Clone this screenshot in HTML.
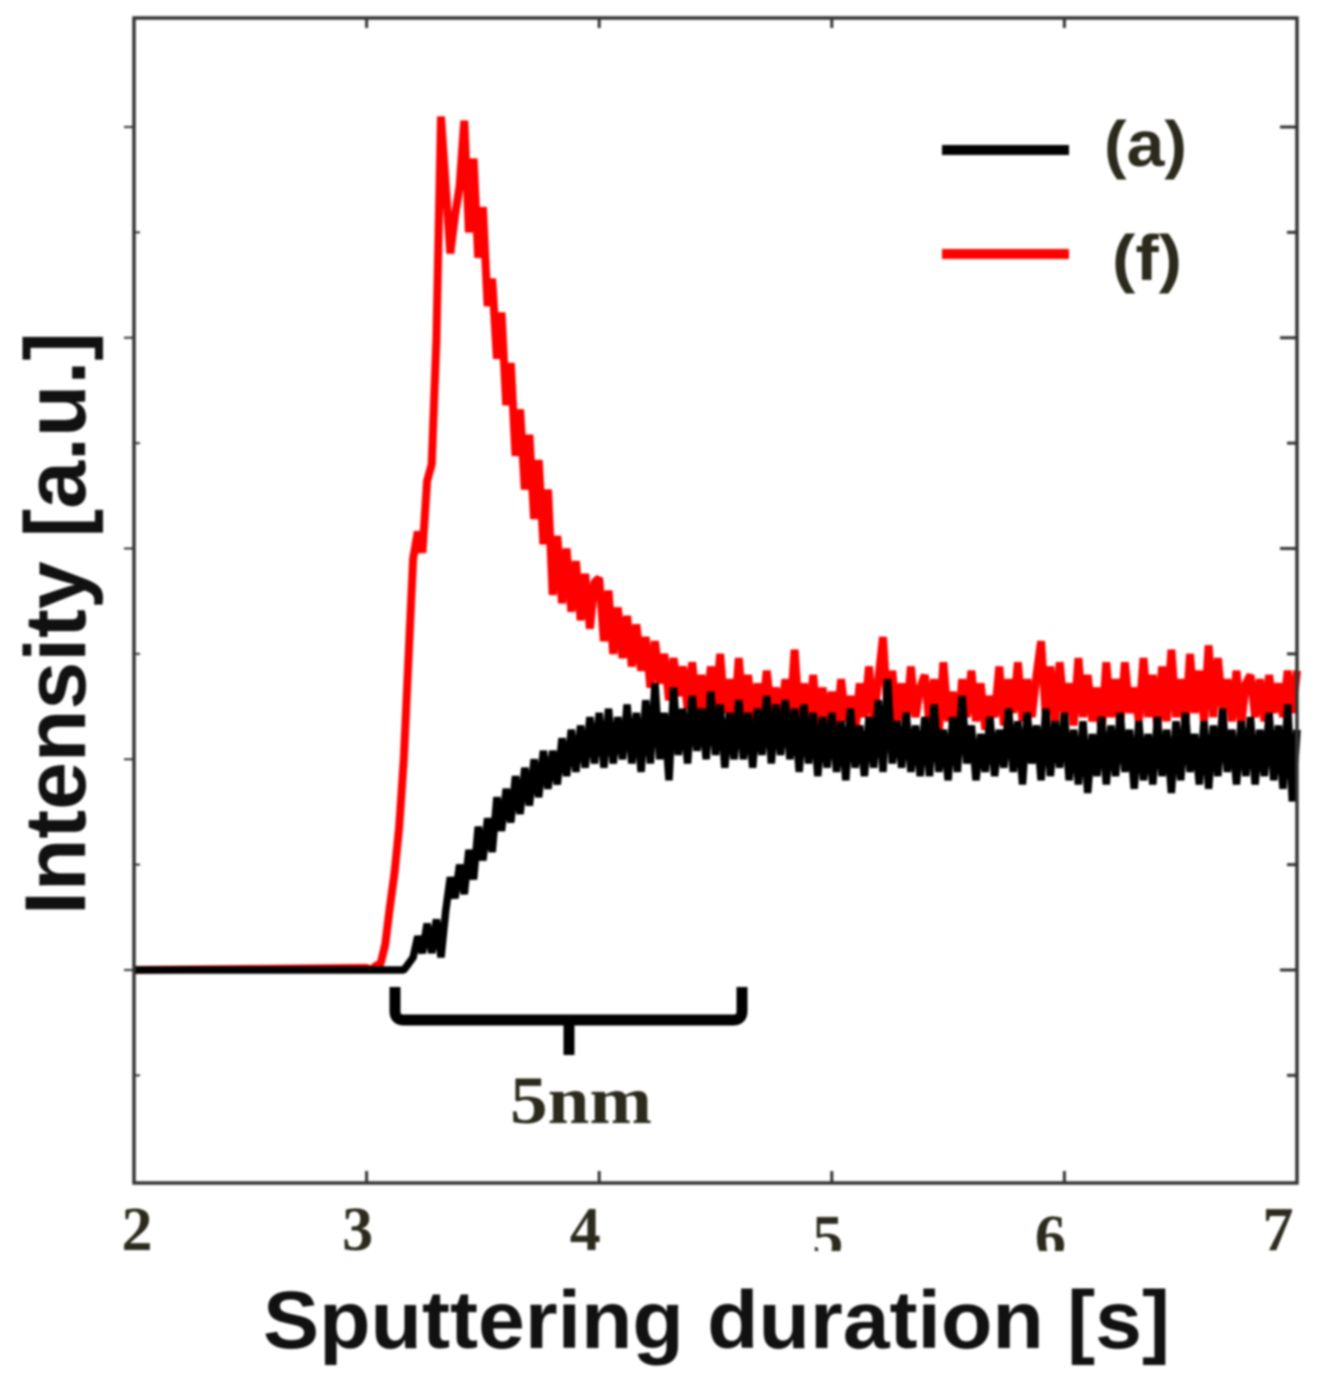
<!DOCTYPE html>
<html lang="en">
<head>
<meta charset="utf-8">
<title>Sputtering duration vs intensity</title>
<style>
html,body{margin:0;padding:0;background:#fff;width:1328px;height:1391px;overflow:hidden}
svg{display:block;filter:blur(1px)}
text{font-family:"Liberation Sans",sans-serif}
.serif{font-family:"Liberation Serif",serif;font-weight:bold}
</style>
</head>
<body>
<svg id="chart" xmlns="http://www.w3.org/2000/svg" width="1328" height="1391" viewBox="0 0 1328 1391">
  <rect x="0" y="0" width="1328" height="1391" fill="#fff"/>
  <g id="ticks"></g>
  <g id="series"></g>
  <rect x="134" y="18" width="1163" height="1165" fill="none" stroke="#333" stroke-width="3.5"/>
  <g id="xlabels"></g>
  <rect x="80" y="1251" width="1248" height="30" fill="#fff"/>
  <text x="263" y="1348" font-size="82" font-weight="bold" fill="#111" textLength="907" lengthAdjust="spacingAndGlyphs">Sputtering duration [s]</text>
  <text transform="translate(85,915) rotate(-90)" font-size="86" font-weight="bold" fill="#111" textLength="583" lengthAdjust="spacingAndGlyphs">Intensity [a.u.]</text>
  <g>
    <line x1="942" y1="150" x2="1069" y2="150" stroke="#000" stroke-width="10"/>
    <text x="1104" y="166" font-size="64" font-weight="bold" fill="#2b2a1c" textLength="83" lengthAdjust="spacingAndGlyphs">(a)</text>
    <line x1="942" y1="254" x2="1069" y2="254" stroke="#f00" stroke-width="10"/>
    <text x="1112" y="280" font-size="64" font-weight="bold" fill="#2b2a1c" textLength="70" lengthAdjust="spacingAndGlyphs">(f)</text>
  </g>
  <path d="M395 987 V1011 Q395 1020 404 1020 H733 Q742 1020 742 1011 V987 M569 1020 V1055" fill="none" stroke="#000" stroke-width="11"/>
  <text class="serif" x="510" y="1123" font-size="68" fill="#2b2a1c" textLength="142" lengthAdjust="spacingAndGlyphs">5nm</text>
</svg>
<script>
const xTicks = [2, 3, 4, 5, 6, 7];
const xTickLabels = ["2", "3", "4", "5", "6", "7"];
const yMajorTicks = [0, 1, 2, 3, 4];
const yMinorTicks = [-0.5, 0.5, 1.5, 2.5, 3.5];
const traceStart = 3.0;
const traceStep = 0.02;
const baselineStart = 2.0;
const baselineValue = 0;
const seriesF = [
.01,.00,.02,.03,.12,.30,.46,.68,1.00,1.48,
1.95,2.08,1.98,2.32,2.40,2.99,4.05,3.72,3.40,3.58,
3.72,4.03,3.50,3.85,3.38,3.62,3.15,3.28,2.90,3.12,
2.68,2.88,2.44,2.66,2.28,2.54,2.14,2.42,2.02,2.28,
1.78,2.06,1.74,2.00,1.70,1.94,1.66,1.88,1.62,1.84,
1.86,1.56,1.80,1.50,1.72,1.48,1.68,1.44,1.64,1.42,
1.58,1.34,1.56,1.36,1.50,1.28,1.48,1.30,1.44,1.24,
1.46,1.22,1.40,1.20,1.44,1.24,1.50,1.22,1.38,1.18,
1.48,1.20,1.40,1.16,1.36,1.18,1.42,1.22,1.34,1.14,
1.38,1.18,1.52,1.20,1.36,1.16,1.40,1.14,1.34,1.16,
1.32,1.14,1.38,1.18,1.30,1.12,1.36,1.20,1.44,1.18,
1.38,1.58,1.22,1.42,1.16,1.36,1.18,1.44,1.20,1.34,
1.40,1.16,1.38,1.12,1.46,1.18,1.32,1.08,1.38,1.20,
1.42,1.18,1.36,1.14,1.30,1.20,1.44,1.16,1.38,1.22,
1.46,1.18,1.38,1.20,1.40,1.56,1.20,1.44,1.16,1.46,
1.22,1.36,1.16,1.48,1.20,1.40,1.18,1.34,1.12,1.46,
1.20,1.38,1.16,1.46,1.22,1.34,1.18,1.48,1.20,1.40,
1.14,1.44,1.18,1.52,1.20,1.38,1.16,1.50,1.22,1.42,
1.18,1.54,1.20,1.48,1.24,1.38,1.18,1.42,1.16,1.36,
1.40,1.20,1.38,1.18,1.40,1.22,1.36,1.20,1.42,1.22,
1.42];
const seriesA = [
0,0,0,0,0,0,0,0,0,.03,
.06,.16,.08,.22,.08,.24,.06,.28,.44,.34,
.50,.36,.57,.43,.68,.52,.72,.56,.82,.66,
.86,.70,.92,.74,.96,.78,1.00,.82,1.04,.86,
1.04,.88,1.10,.92,1.14,.94,1.16,.96,1.20,.98,
1.22,.96,1.24,.98,1.20,1.00,1.26,.98,1.22,.94,
1.28,.98,1.36,1.00,1.22,.90,1.34,1.02,1.24,.98,
1.30,1.04,1.24,1.00,1.32,1.02,1.26,.96,1.22,1.00,
1.28,1.00,1.22,.96,1.24,1.02,1.30,.98,1.26,1.02,
1.28,1.00,1.24,.94,1.26,.98,1.22,.92,1.20,.96,
1.22,.94,1.18,.90,1.24,.96,1.16,.92,1.20,.96,
1.28,.94,1.38,.98,1.18,.96,1.22,.94,1.16,.92,
1.20,.92,1.26,.94,1.14,.90,1.20,.94,1.30,.98,
1.16,.90,1.12,.94,1.20,.92,1.14,.96,1.24,.94,
1.18,.88,1.22,.98,1.16,.90,1.24,.92,1.18,.96,
1.22,.90,1.14,.88,1.18,.84,1.12,.92,1.20,.88,
1.16,.92,1.22,.94,1.14,.86,1.18,.90,1.12,.88,
1.20,.92,1.14,.84,1.18,.90,1.22,.94,1.12,.88,
1.18,.86,1.16,.92,1.24,.94,1.14,.88,1.18,.92,
1.20,.88,1.14,.92,1.22,.90,1.16,.86,1.26,.80,
1.14];

const NS = "http://www.w3.org/2000/svg";
const labelShiftX = [3, -9, -14, -4, -14, -19];
const labelShiftY = [0, 0, 0, 8, 8, 0];
function xScale(t) { return 134 + (t - 2) * 232.6; }
function yScale(v) { return 970 - v * 210.75; }

function addLine(parent, x1, y1, x2, y2, width) {
  const el = document.createElementNS(NS, "line");
  el.setAttribute("x1", x1);
  el.setAttribute("y1", y1);
  el.setAttribute("x2", x2);
  el.setAttribute("y2", y2);
  el.setAttribute("stroke", "#333");
  el.setAttribute("stroke-width", width);
  
  
  parent.appendChild(el);
}

const tickGroup = document.getElementById("ticks");
xTicks.slice(1, -1).forEach(function (t) {
  addLine(tickGroup, xScale(t), 1183, xScale(t), 1171, 3);
  addLine(tickGroup, xScale(t), 18, xScale(t), 28, 3);
});
yMajorTicks.forEach(function (v) {
  addLine(tickGroup, 1297, yScale(v), 1280, yScale(v), 3);
  addLine(tickGroup, 134, yScale(v), 124, yScale(v), 2);
});
yMinorTicks.forEach(function (v) {
  addLine(tickGroup, 1297, yScale(v), 1287, yScale(v), 3);
  addLine(tickGroup, 134, yScale(v), 140, yScale(v), 2);
});

const labelGroup = document.getElementById("xlabels");
xTickLabels.forEach(function (label, i) {
  const el = document.createElementNS(NS, "text");
  el.setAttribute("x", xScale(xTicks[i]) + labelShiftX[i]);
  el.setAttribute("y", 1250 + labelShiftY[i]);
  el.setAttribute("text-anchor", "middle");
  el.setAttribute("font-size", "62");
  el.setAttribute("fill", "#2b2a1c");
  el.setAttribute("class", "serif");
  
  
  el.textContent = label;
  labelGroup.appendChild(el);
});

function tracePoints(values) {
  const pts = [xScale(baselineStart) + "," + yScale(baselineValue)];
  values.forEach(function (v, i) {
    pts.push(xScale(traceStart + i * traceStep).toFixed(1) + "," + yScale(v).toFixed(1));
  });
  return pts.join(" ");
}

const seriesGroup = document.getElementById("series");
const lineF = document.createElementNS(NS, "polyline");
lineF.setAttribute("points", tracePoints(seriesF));
lineF.setAttribute("fill", "none");
lineF.setAttribute("stroke", "#f00");
lineF.setAttribute("stroke-width", "8");
lineF.setAttribute("stroke-linejoin", "bevel");


seriesGroup.appendChild(lineF);

const lineA = document.createElementNS(NS, "polyline");
lineA.setAttribute("points", tracePoints(seriesA));
lineA.setAttribute("fill", "none");
lineA.setAttribute("stroke", "#000");
lineA.setAttribute("stroke-width", "7.5");
lineA.setAttribute("stroke-linejoin", "bevel");


seriesGroup.appendChild(lineA);
</script>
</body>
</html>
